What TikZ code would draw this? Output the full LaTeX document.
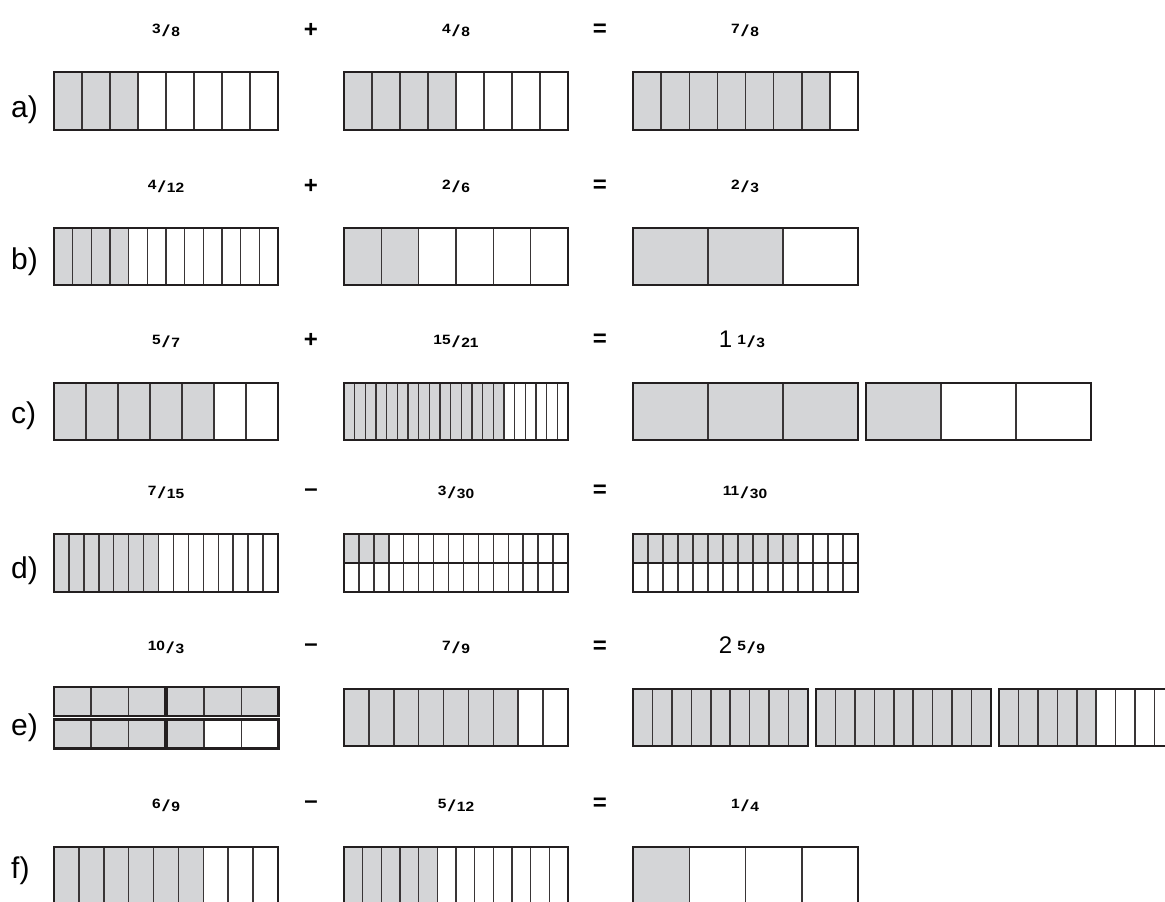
\documentclass[tikz,border=0pt]{standalone}
\usepackage{graphicx}
\usepackage{fontspec}
\setmainfont{Liberation Sans}
\definecolor{cellgray}{RGB}{212,213,215}
\definecolor{ink}{RGB}{35,31,32}
\newcommand\fnum[1]{\scalebox{1.15}[1]{\fontsize{13.5}{13.5}\selectfont\bfseries #1}}
\newcommand\fr[2]{\raisebox{2.4pt}{\fnum{#1}}\kern1.4pt{\fontsize{16}{16}\selectfont\scalebox{1.75}[1]{/}}\kern1.4pt\raisebox{-0.6pt}{\fnum{#2}}}
\newcommand\bigdig[1]{{\fontsize{24}{24}\selectfont #1}\hspace{5pt}}
\newcommand\fbar[6]{%
  \begin{scope}[shift={(#1,#2)}]
    \ifnum#6>0 \fill[cellgray] (0,0) rectangle ({#3*#6/#5},#4);\fi
    \pgfmathtruncatemacro\nm{#5-1}%
    \foreach \i in {1,...,\nm} \draw[innerline] ({#3*\i/#5},0) -- ({#3*\i/#5},#4);
    \draw[outerline] (0,0) rectangle (#3,#4);
  \end{scope}}
\tikzset{
  innerline/.style={draw=ink!90, line width=1.5pt},
  outerline/.style={draw=ink, line width=2.1pt},
  rowlab/.style={anchor=base west, inner sep=0pt, font=\fontsize{30}{30}\selectfont},
  fraclab/.style={anchor=base, inner sep=0pt},
  oplab/.style={anchor=center, inner sep=0pt, font=\fontsize{24}{24}\selectfont\bfseries},
}
\begin{document}
\begin{tikzpicture}[x=1pt,y=-1pt]
\useasboundingbox (0,0) rectangle (1165,902);
% ---------- row a
\node[fraclab] (a1) at (166,36) {\fr{3}{8}};
\node[oplab] (ao1) at (311,30) {+};
\node[fraclab] (a2) at (456,36) {\fr{4}{8}};
\node[oplab] (ao2) at (600,30.5) {=};
\node[fraclab] (a3) at (745,36) {\fr{7}{8}};
\node[rowlab] (la) at (11,117) {a)};
\fbar{54}{72}{224}{58}{8}{3}
\fbar{344}{72}{224}{58}{8}{4}
\fbar{633}{72}{225}{58}{8}{7}
% ---------- row b
\node[fraclab] (b1) at (166,192) {\fr{4}{12}};
\node[oplab] (bo1) at (311,186) {+};
\node[fraclab] (b2) at (456,192) {\fr{2}{6}};
\node[oplab] (bo2) at (600,186.5) {=};
\node[fraclab] (b3) at (745,192) {\fr{2}{3}};
\node[rowlab] (lb) at (11,269) {b)};
\fbar{54}{228}{224}{57}{12}{4}
\fbar{344}{228}{224}{57}{6}{2}
\fbar{633}{228}{225}{57}{3}{2}
% ---------- row c
\node[fraclab] (c1) at (166,347) {\fr{5}{7}};
\node[oplab] (co1) at (311,340) {+};
\node[fraclab] (c2) at (456,347) {\fr{15}{21}};
\node[oplab] (co2) at (600,340.5) {=};
\node[fraclab] (c3) at (742,347) {\bigdig{1}\fr{1}{3}};
\node[rowlab] (lc) at (11,423) {c)};
\fbar{54}{383}{224}{57}{7}{5}
\fbar{344}{383}{224}{57}{21}{15}
\fbar{633}{383}{225}{57}{3}{3}
\fbar{866}{383}{225}{57}{3}{1}
% ---------- row d
\node[fraclab] (d1) at (166,498) {\fr{7}{15}};
\node[oplab] (do1) at (311,492.5) {–};
\node[fraclab] (d2) at (456,498) {\fr{3}{30}};
\node[oplab] (do2) at (600,491.5) {=};
\node[fraclab] (d3) at (745,498) {\fr{11}{30}};
\node[rowlab] (ld) at (11,578) {d)};
\fbar{54}{534}{224}{58}{15}{7}
\fbar{344}{534}{224}{29}{15}{3}
\fbar{344}{563}{224}{29}{15}{0}
\fbar{633}{534}{225}{29}{15}{11}
\fbar{633}{563}{225}{29}{15}{0}
% ---------- row e
\node[fraclab] (e1) at (166,653) {\fr{10}{3}};
\node[oplab] (eo1) at (311,648) {–};
\node[fraclab] (e2) at (456,653) {\fr{7}{9}};
\node[oplab] (eo2) at (600,647) {=};
\node[fraclab] (e3) at (742,653) {\bigdig{2}\fr{5}{9}};
\node[rowlab] (le) at (11,735) {e)};
\fbar{54}{687}{111.5}{29}{3}{3}
\fbar{167}{687}{111.5}{29}{3}{3}
\fbar{54}{719.5}{111.5}{29}{3}{3}
\fbar{167}{719.5}{111.5}{29}{3}{1}
\fbar{344}{689}{224}{57}{9}{7}
\fbar{633}{689}{175}{57}{9}{9}
\fbar{816}{689}{175}{57}{9}{9}
\fbar{999}{689}{175}{57}{9}{5}
% ---------- row f
\node[fraclab] (f1) at (166,811) {\fr{6}{9}};
\node[oplab] (fo1) at (311,805) {–};
\node[fraclab] (f2) at (456,811) {\fr{5}{12}};
\node[oplab] (fo2) at (600,804) {=};
\node[fraclab] (f3) at (745,811) {\fr{1}{4}};
\node[rowlab] (lf) at (11,878) {f)};
\fbar{54}{847}{224}{58}{9}{6}
\fbar{344}{847}{224}{58}{12}{5}
\fbar{633}{847}{225}{58}{4}{1}
\end{tikzpicture}
\end{document}
